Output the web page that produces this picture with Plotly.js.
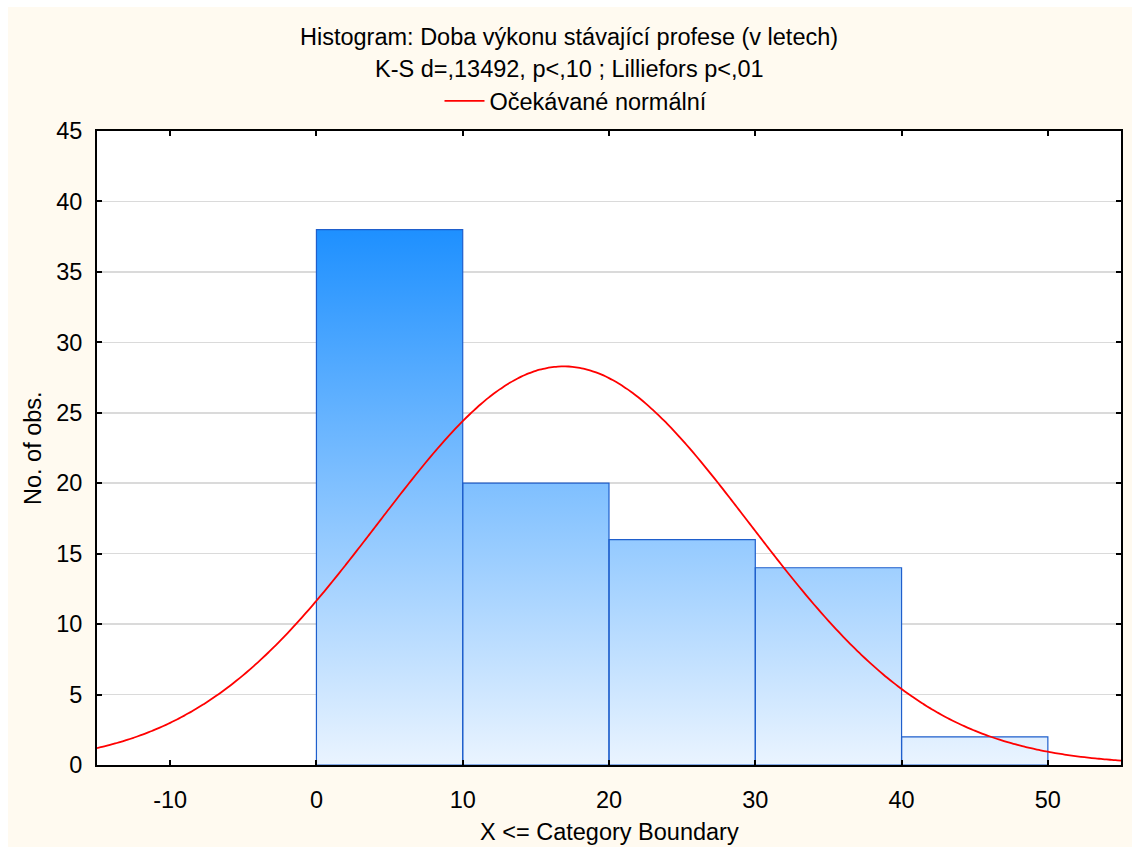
<!DOCTYPE html>
<html>
<head>
<meta charset="utf-8">
<script src="https://cdn.plot.ly/plotly-3.0.1.min.js"></script>
<style>
html,body{margin:0;padding:0;background:#ffffff;width:1132px;height:847px;overflow:hidden;}
#chart{position:absolute;left:8px;top:7px;width:1124px;height:840px;}
</style>
</head>
<body>
<div id="chart"></div>
<script>
// ---- data ----
const binEdges = [0, 10, 20, 30, 40, 50];
const binCounts = [38, 20, 16, 14, 2];
const xTicks = [-10, 0, 10, 20, 30, 40, 50];
const yTicks = [0, 5, 10, 15, 20, 25, 30, 35, 40, 45];
// expected normal parameters
const normMean = 16.9;
const normSD = 12.69;
const titleLine1 = "Histogram: Doba výkonu stávající profese (v letech)";
const titleLine2 = "K-S d=,13492, p<,10 ; Lilliefors p<,01";
const legendLabel = "Očekávané normální";
const xTitle = "X <= Category Boundary";
const yTitle = "No. of obs.";

// ---- build traces ----
const N = binCounts.reduce((a, b) => a + b, 0);
const binW = binEdges[1] - binEdges[0];
const barX = [], barY = [];
binCounts.forEach((c, i) => {
  const x0 = binEdges[i], x1 = binEdges[i + 1];
  barX.push(x0, x0, x1, x1, x0, null);
  barY.push(0, c, c, 0, 0, null);
});
const maxCount = Math.max(...binCounts);

const curveX = [], curveY = [];
for (let x = -15; x <= 55.001; x += 0.25) {
  const z = (x - normMean) / normSD;
  curveX.push(x);
  curveY.push(N * binW / (normSD * Math.sqrt(2 * Math.PI)) * Math.exp(-0.5 * z * z));
}

const FONT = '"Liberation Sans", Arial, sans-serif';
const FS = 23.5;

const traces = [
  {
    type: 'scatter', mode: 'lines', x: barX, y: barY,
    fill: 'toself', connectgaps: false,
    fillgradient: {type: 'vertical', start: 0, stop: maxCount,
      colorscale: [[0, '#eaf4ff'], [1, '#1e90ff']]},
    line: {color: '#1f5fcc', width: 1.2},
    showlegend: false, hoverinfo: 'skip'
  },
  {
    type: 'scatter', mode: 'lines', x: curveX, y: curveY,
    line: {color: '#ff0000', width: 1.8, shape: 'spline'},
    name: legendLabel, showlegend: true
  }
];

const plotLeft = 89, plotW = 1024, plotTop = 124, plotH = 634;
const cx = (569 - 8 - plotLeft) / plotW;
const cxLegend = (576 - 8 - plotLeft) / plotW;

const layout = {
  width: 1124, height: 840,
  margin: {l: plotLeft, r: 11, t: plotTop, b: 82, pad: 0},
  paper_bgcolor: '#fffaf0',
  plot_bgcolor: '#ffffff',
  font: {family: FONT, size: FS, color: '#000000'},
  showlegend: true,
  legend: {
    orientation: 'h', x: cxLegend, xanchor: 'center',
    y: 1 + (plotTop - 94) / plotH, yanchor: 'middle',
    bgcolor: 'rgba(0,0,0,0)', font: {family: FONT, size: FS, color: '#000'},
    itemwidth: 40
  },
  xaxis: {
    range: [-15, 55], tickvals: xTicks, ticktext: xTicks.map(String),
    showgrid: false, zeroline: false,
    showline: true, linecolor: '#000', linewidth: 2, mirror: 'ticks',
    ticks: 'inside', ticklen: 5, tickwidth: 2, tickcolor: '#000',
    ticklabelstandoff: 13,
    tickfont: {family: FONT, size: FS, color: '#000'}
  },
  yaxis: {
    range: [0, 45], tickvals: yTicks, ticktext: yTicks.map(String),
    showgrid: true, gridcolor: '#dadada', gridwidth: 1.5, zeroline: false,
    showline: true, linecolor: '#000', linewidth: 2, mirror: 'ticks',
    ticks: 'inside', ticklen: 5, tickwidth: 2, tickcolor: '#000',
    ticklabelstandoff: 8,
    tickfont: {family: FONT, size: FS, color: '#000'}
  },
  annotations: [
    {text: titleLine1, xref: 'paper', yref: 'paper', x: cx, y: 1 + (plotTop - 30) / plotH,
     xanchor: 'center', yanchor: 'middle', showarrow: false, font: {family: FONT, size: FS, color: '#000'}},
    {text: titleLine2, xref: 'paper', yref: 'paper', x: cx, y: 1 + (plotTop - 62) / plotH,
     xanchor: 'center', yanchor: 'middle', showarrow: false, font: {family: FONT, size: FS, color: '#000'}},
    {text: xTitle, xref: 'paper', yref: 'paper', x: 0.5, y: -(825 - plotTop - plotH) / plotH,
     xanchor: 'center', yanchor: 'middle', showarrow: false, font: {family: FONT, size: FS, color: '#000'}},
    {text: yTitle, xref: 'paper', yref: 'paper', x: (25 - plotLeft) / plotW, y: 0.5, textangle: -90,
     xanchor: 'center', yanchor: 'middle', showarrow: false, font: {family: FONT, size: FS, color: '#000'}}
  ]
};

Plotly.newPlot('chart', traces, layout, {displayModeBar: false, staticPlot: true});
</script>
</body>
</html>
